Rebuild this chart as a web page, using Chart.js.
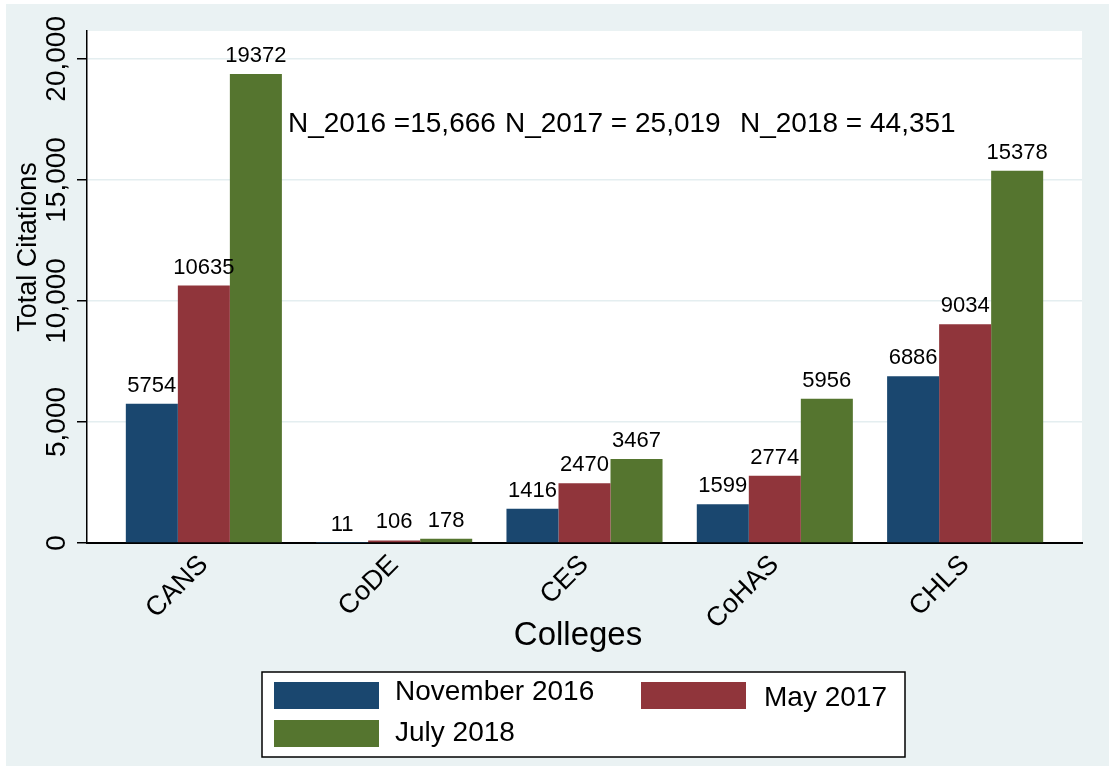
<!DOCTYPE html>
<html>
<head>
<meta charset="utf-8">
<title>Total Citations by College</title>
<script src="https://cdn.jsdelivr.net/npm/chart.js@4.4.0/dist/chart.umd.min.js"></script>
<style>
    html, body { margin: 0; padding: 0; background: #ffffff; }
    #chart { display: block; }
</style>
</head>
<body>
<canvas id="chart" width="1110" height="771"></canvas>
<script>
// Data
const categories = ['CANS', 'CoDE', 'CES', 'CoHAS', 'CHLS'];
const seriesNames = ['November 2016', 'May 2017', 'July 2018'];
const nov2016 = [5754, 11, 1416, 1599, 6886];
const may2017 = [10635, 106, 2470, 2774, 9034];
const jul2018 = [19372, 178, 3467, 5956, 15378];
const yTicks = [0, 5000, 10000, 15000, 20000];
const noteTexts = ['N_2016 =15,666', 'N_2017 = 25,019', 'N_2018 = 44,351'];

const colors = ['#1a476f', '#90353b', '#55752f'];
const FONT = '"Liberation Sans", Arial, Helvetica, sans-serif';
const BG = '#eaf2f3';

function toPoints(values) {
    return values.map((v, i) => ({ x: i, y: v }));
}

// Backgrounds: outer light panel + white plot region
const backgroundPlugin = {
    id: 'backgrounds',
    beforeDraw(chart) {
        const ctx = chart.ctx;
        const a = chart.chartArea;
        ctx.save();
        ctx.fillStyle = '#ffffff';
        ctx.fillRect(0, 0, chart.width, chart.height);
        ctx.fillStyle = BG;
        ctx.fillRect(6, 4, 1103, 762);
        ctx.fillStyle = '#ffffff';
        ctx.fillRect(a.left, a.top, a.right - a.left, a.bottom - a.top);
        ctx.restore();
    }
};

// Value labels above the bars, notes, axis texts, legend
const annotationPlugin = {
    id: 'annotations',
    afterDatasetsDraw(chart) {
        const ctx = chart.ctx;
        ctx.save();
        ctx.fillStyle = '#000';
        ctx.font = '22px ' + FONT;
        ctx.textAlign = 'center';
        ctx.textBaseline = 'alphabetic';
        chart.data.datasets.forEach((ds, di) => {
            const meta = chart.getDatasetMeta(di);
            meta.data.forEach((bar, i) => {
                ctx.fillText(String(ds.data[i].y), bar.x, bar.y - 12);
            });
        });
        ctx.restore();
    },
    afterDraw(chart) {
        const ctx = chart.ctx;
        const yScale = chart.scales.y;
        ctx.save();
        ctx.fillStyle = '#000';

        // y tick labels, rotated
        ctx.font = '28px ' + FONT;
        ctx.textAlign = 'center';
        ctx.textBaseline = 'alphabetic';
        yTicks.forEach(v => {
            const py = yScale.getPixelForValue(v);
            ctx.save();
            ctx.translate(65, py);
            ctx.rotate(-Math.PI / 2);
            ctx.fillText(v.toLocaleString('en-US'), 0, 0);
            ctx.restore();
        });

        // y axis title
        ctx.save();
        ctx.font = '27px ' + FONT;
        ctx.translate(36, 247);
        ctx.rotate(-Math.PI / 2);
        ctx.fillText('Total Citations', 0, 0);
        ctx.restore();

        // notes inside the plot
        ctx.textAlign = 'left';
        ctx.font = '28px ' + FONT;
        const noteX = [288, 505, 740];
        noteTexts.forEach((t, i) => ctx.fillText(t, noteX[i], 132));

        // x axis title
        ctx.textAlign = 'center';
        ctx.font = '33px ' + FONT;
        ctx.fillText('Colleges', 578, 645);

        // legend box
        ctx.fillStyle = '#ffffff';
        ctx.fillRect(262, 672, 643, 85);
        ctx.strokeStyle = '#000';
        ctx.lineWidth = 1.5;
        ctx.strokeRect(262, 672, 643, 85);

        const items = [
            { sx: 274, sy: 682, tx: 395, ty: 692 },
            { sx: 641, sy: 682, tx: 764, ty: 698 },
            { sx: 274, sy: 720, tx: 395, ty: 733 }
        ];
        ctx.font = '28px ' + FONT;
        ctx.textAlign = 'left';
        ctx.textBaseline = 'middle';
        chart.data.datasets.forEach((ds, i) => {
            const it = items[i];
            ctx.fillStyle = ds.backgroundColor;
            ctx.fillRect(it.sx, it.sy, 105, 27);
            ctx.fillStyle = '#000';
            ctx.fillText(ds.label, it.tx, it.ty);
        });
        ctx.restore();
    }
};

new Chart(document.getElementById('chart'), {
    type: 'bar',
    data: {
        datasets: [
            { label: seriesNames[0], data: toPoints(nov2016), backgroundColor: colors[0] },
            { label: seriesNames[1], data: toPoints(may2017), backgroundColor: colors[1] },
            { label: seriesNames[2], data: toPoints(jul2018), backgroundColor: colors[2] }
        ]
    },
    options: {
        responsive: false,
        animation: false,
        devicePixelRatio: 1,
        layout: { padding: { left: 0, top: 31, right: 28, bottom: 0 } },
        datasets: {
            bar: { categoryPercentage: 0.82, barPercentage: 1, borderWidth: 0 }
        },
        plugins: {
            legend: { display: false },
            tooltip: { enabled: false }
        },
        scales: {
            x: {
                type: 'linear',
                offset: false,
                min: -0.614,
                max: 4.614,
                afterBuildTicks(scale) {
                    scale.ticks = categories.map((c, i) => ({ value: i }));
                },
                afterFit(scale) { scale.height = 228; },
                grid: { display: false, drawTicks: false, offset: false },
                border: { display: true, color: '#000', width: 2 },
                ticks: {
                    autoSkip: false,
                    minRotation: 45,
                    maxRotation: 45,
                    padding: 6,
                    color: '#000',
                    font: { family: FONT, size: 27 },
                    callback: (v) => categories[v]
                }
            },
            y: {
                min: 0,
                max: 21150,
                afterBuildTicks(scale) {
                    scale.ticks = yTicks.map(v => ({ value: v }));
                },
                afterFit(scale) { scale.width = 87; },
                grid: {
                    color: '#e4eef0',
                    lineWidth: 1.5,
                    tickColor: '#000',
                    tickLength: 10,
                    tickWidth: 1.5
                },
                border: { display: true, color: '#000', width: 1.5 },
                ticks: { display: false }
            }
        }
    },
    plugins: [backgroundPlugin, annotationPlugin]
});
</script>
</body>
</html>
